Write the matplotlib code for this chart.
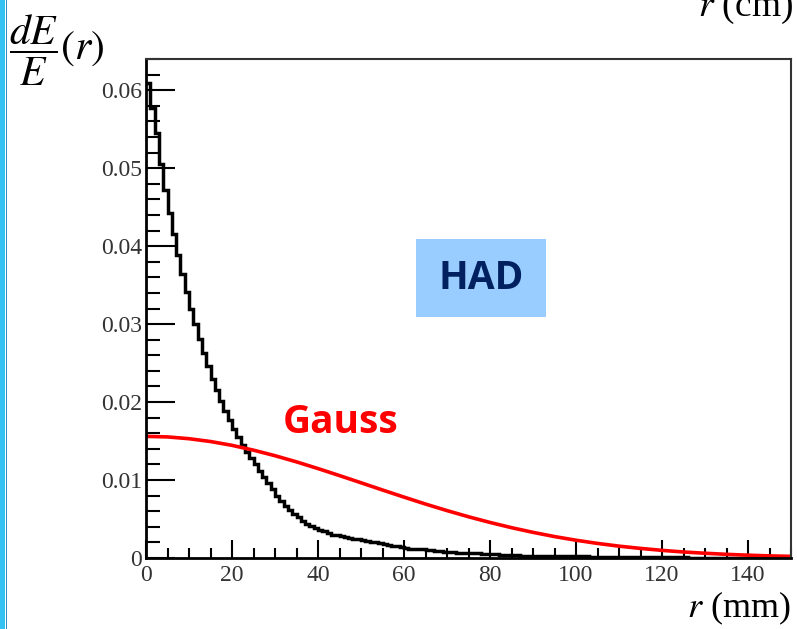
import numpy as np
import matplotlib
matplotlib.use("Agg")
import matplotlib.pyplot as plt
from matplotlib.patches import Rectangle
from matplotlib.ticker import MultipleLocator, FixedLocator, FixedFormatter

plt.rcParams['mathtext.fontset'] = 'stix'
plt.rcParams['font.family'] = ['Liberation Serif', 'DejaVu Serif']

# ---- data ----
bin_edges = np.arange(0, 151, 1)  # 1 mm bins, 0..150 mm
had_values = [
    0.0609, 0.0577, 0.0545, 0.0505, 0.0472, 0.0443, 0.0415, 0.0389, 0.0364, 0.0341,
    0.0320, 0.0300, 0.0281, 0.0263, 0.0246, 0.0230, 0.0216, 0.0202, 0.0189, 0.0177,
    0.0166, 0.0155, 0.0145, 0.0136, 0.0128, 0.0120, 0.0112, 0.0104, 0.0096, 0.0088,
    0.0080, 0.0073, 0.0067, 0.0062, 0.0057, 0.0052, 0.0048, 0.0044, 0.0041, 0.0038,
    0.0036, 0.0034, 0.0032, 0.0030, 0.0029, 0.0028, 0.0027, 0.0026, 0.0025, 0.0024,
    0.0023, 0.0022, 0.0021, 0.0020, 0.0019, 0.0018, 0.0017, 0.0016, 0.0015, 0.0014,
    0.0013, 0.0012, 0.0012, 0.0011, 0.0011, 0.0010, 0.0010, 0.0009, 0.0009, 0.0008,
    0.0008, 0.0008, 0.0007, 0.0007, 0.0007, 0.0006, 0.0006, 0.0006, 0.0005, 0.0005,
    0.0005, 0.0005, 0.0004, 0.0004, 0.0004, 0.0004, 0.0004, 0.0003, 0.0003, 0.0003,
    0.0003, 0.0003, 0.0003, 0.0002, 0.0002, 0.0002, 0.0002, 0.0002, 0.0002, 0.0002,
    0.0002, 0.0002, 0.0002, 0.00015, 0.00015, 0.00015, 0.00015, 0.00012, 0.00012, 0.00012,
    0.0001, 0.0001, 0.0001, 0.0001, 0.0001, 0.00009, 0.00009, 0.00009, 0.00008, 0.00008,
    0.00008, 0.00008, 0.00007, 0.00007, 0.00007, 0.00007, 0.00006, 0.00006, 0.00006, 0.00006,
    0.00006, 0.00005, 0.00005, 0.00005, 0.00005, 0.00005, 0.00005, 0.00004, 0.00004, 0.00004,
    0.00004, 0.00004, 0.00004, 0.00004, 0.00003, 0.00003, 0.00003, 0.00003, 0.00003, 0.00003,
]
gauss_r = [0, 5, 10, 15, 20, 25, 30, 35, 40, 45, 50, 55, 60, 65, 70, 75,
           80, 85, 90, 95, 100, 105, 110, 115, 120, 125, 130, 135, 140, 145, 150]
gauss_values = [0.01560, 0.01553, 0.01530, 0.01494, 0.01445, 0.01383, 0.01312, 0.01233,
                0.01147, 0.01057, 0.00965, 0.00872, 0.00781, 0.00692, 0.00608, 0.00529,
                0.00456, 0.00389, 0.00329, 0.00275, 0.00228, 0.00187, 0.00152, 0.00123,
                0.00098, 0.00077, 0.00061, 0.00047, 0.00036, 0.00027, 0.00021]
x_ticks = [0, 20, 40, 60, 80, 100, 120, 140]
x_labels = ['0', '20', '40', '60', '80', '100', '120', '140']
y_ticks = [0, 0.01, 0.02, 0.03, 0.04, 0.05, 0.06]
y_labels = ['0', '0.01', '0.02', '0.03', '0.04', '0.05', '0.06']

W, H = 797, 629
fig = plt.figure(figsize=(W / 100, H / 100), dpi=100)
fig.patch.set_facecolor('white')

def fx(px):
    return px / W

def fy(py):
    return 1 - py / H

ax = fig.add_axes([fx(146), fy(558), fx(791) - fx(146), fy(59) - fy(558)])
ax.stairs(had_values, bin_edges, color='black', linewidth=2.5, baseline=None)
ax.plot(gauss_r, gauss_values, color='#ff0000', linewidth=2.6, solid_capstyle='butt')

ax.set_xlim(0, 150)
ax.set_ylim(0, 0.064)

ax.xaxis.set_major_locator(FixedLocator(x_ticks))
ax.xaxis.set_major_formatter(FixedFormatter(x_labels))
ax.xaxis.set_minor_locator(MultipleLocator(5))
ax.yaxis.set_major_locator(FixedLocator(y_ticks))
ax.yaxis.set_major_formatter(FixedFormatter(y_labels))
ax.yaxis.set_minor_locator(MultipleLocator(0.002))

ax.tick_params(axis='both', which='both', direction='in', colors='black',
               labelcolor='#333333', labelsize=17, width=1.5)
ax.tick_params(axis='y', which='major', length=21, pad=3)
ax.tick_params(axis='y', which='minor', length=10)
ax.tick_params(axis='x', which='major', length=13, pad=5)
ax.tick_params(axis='x', which='minor', length=7)
ax.tick_params(top=False, right=False)

for s in ['left', 'bottom']:
    ax.spines[s].set_linewidth(2)
    ax.spines[s].set_color('black')
for s in ['top', 'right']:
    ax.spines[s].set_linewidth(1.5)
    ax.spines[s].set_color('#333333')

# axis titles
fig.text(fx(791), fy(617), r'$r$ (mm)', ha='right', va='baseline', fontsize=26,
         color='black')
fig.text(fx(9), fy(50), r'$\dfrac{dE}{E}(r)$', ha='left', va='center', fontsize=30,
         color='black')
# clipped title at top right from slide above
fig.text(fx(793), fy(16), r'$r$ (cm)', ha='right', va='baseline', fontsize=27,
         color='black')

# HAD label box
fig.patches.append(Rectangle((fx(416), fy(317)), fx(546) - fx(416), fy(239) - fy(317),
                             transform=fig.transFigure, facecolor='#99ccff',
                             edgecolor='none', zorder=5))
fig.text(fx(481), fy(279), 'HAD', ha='center', va='center', fontsize=28,
         fontweight='bold', color='#002060', family='Open Sans', zorder=6)

# Gauss label
fig.text(fx(283), fy(433), 'Gauss', ha='left', va='baseline', fontsize=28,
         fontweight='bold', color='#ff0000', family='Open Sans')

# left slide border
fig.patches.append(Rectangle((0, 0), fx(5), 1, transform=fig.transFigure,
                             facecolor='#33c3f3', edgecolor='none'))
fig.patches.append(Rectangle((fx(6), 0), fx(1.2), 1, transform=fig.transFigure,
                             facecolor='#2a8fc0', edgecolor='none'))

fig.savefig('out.png', dpi=100)
